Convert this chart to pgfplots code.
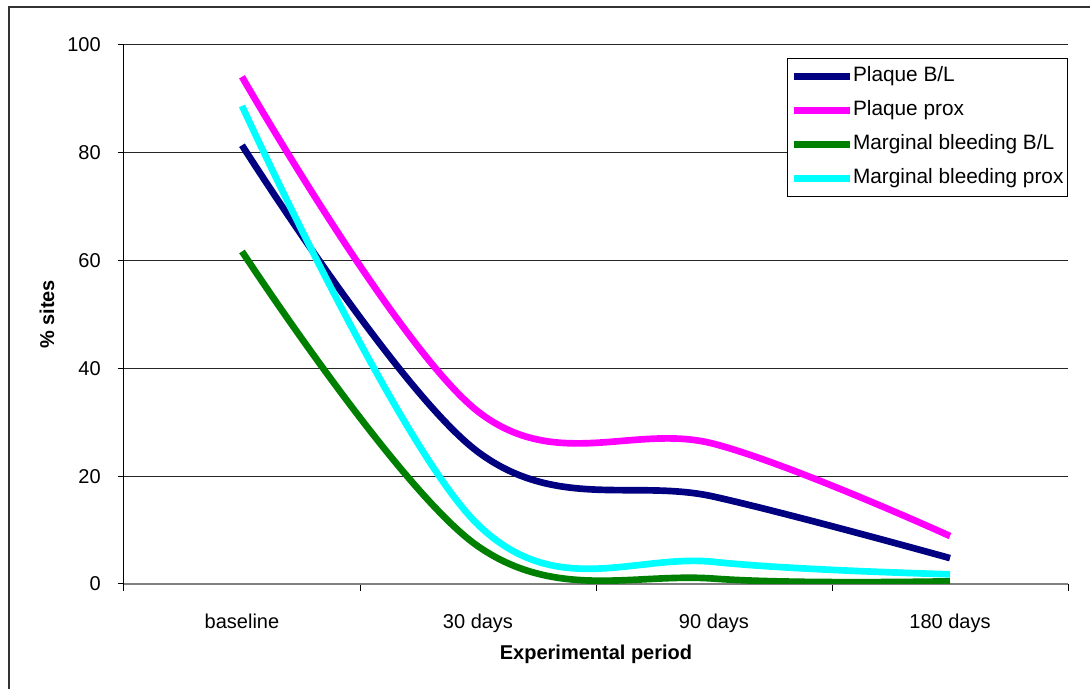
\documentclass[border=0pt]{standalone}
\usepackage{pgfplots}
\pgfplotsset{compat=1.18}
\usepackage{fontspec}
\setmainfont{Liberation Sans}
\definecolor{cnavy}{RGB}{0,0,128}
\definecolor{cmag}{RGB}{255,0,255}
\definecolor{cgreen}{RGB}{0,128,0}
\definecolor{ccyan}{RGB}{0,255,255}
\begin{document}
\begin{tikzpicture}
\path[use as bounding box] (0,0) rectangle (817.5pt,516.75pt);
\draw[line width=1pt, black!80] (6.75pt,-2pt) -- (6.75pt,511.5pt) -- (820pt,511.5pt);
\begin{axis}[
  at={(93pt,78.75pt)}, anchor=south west,
  scale only axis, width=708pt, height=404.25pt,
  xmin=-0.5, xmax=3.5, ymin=0, ymax=100,
  ytick={0,20,40,60,80,100},
  xtick={0,1,2,3}, xticklabels={baseline,30 days,90 days,180 days},
  minor xtick={-0.5,0.5,1.5,2.5,3.5},
  major x tick style={draw=none},
  axis x line*=bottom, axis y line*=left,
  tick align=outside,
  major tick length=4.5pt, minor tick length=5.25pt,
  tick style={black, line width=0.75pt},
  ymajorgrids, grid style={black!85, line width=0.75pt},
  x axis line style={black!50, line width=1.2pt},
  y axis line style={black, line width=0.75pt},
  /pgf/number format/assume math mode=true,
  ticklabel style={font=\fontsize{15}{18}\selectfont},
  xticklabel style={anchor=base, yshift=-29.25pt, inner sep=0pt},
  yticklabel style={anchor=east, xshift=-12.75pt, inner sep=0pt},
  ylabel={\% sites}, xlabel={Experimental period},
  every axis y label/.style={at={(rel axis cs:0,0.5)}, xshift=-57.75pt, rotate=90, anchor=center, font=\fontsize{15}{18}\selectfont\bfseries},
  every axis x label/.style={at={(rel axis cs:0.5,0)}, anchor=base, yshift=-57pt, font=\fontsize{15}{18}\selectfont\bfseries},
  legend cell align=left,
  legend style={at={(rel axis cs:1,0.9759)}, anchor=north east, draw=black, line width=0.75pt, fill=white,
    font=\fontsize{15.6}{18}\selectfont, inner xsep=3pt, inner ysep=6pt, row sep=10.9pt,
    nodes={inner sep=0pt, text height=11.2pt, text depth=3.5pt}},
  legend image code/.code={\draw[#1, line width=5pt] (0pt,0pt) -- (41.5pt,0pt);},
]
\addplot[color=cnavy, line width=5pt, smooth, tension=0.6] coordinates {(0,81.4) (1,24.5) (2,16.2) (3,4.8)};
\addlegendentry{Plaque B/L}
\addplot[color=cmag, line width=5pt, smooth, tension=0.6] coordinates {(0,94.1) (1,32) (2,26) (3,8.9)};
\addlegendentry{Plaque prox}
\addplot[color=cgreen, line width=5pt, smooth, tension=0.6] coordinates {(0,61.7) (1,7) (2,1.0) (3,0.5)};
\addlegendentry{Marginal bleeding B/L}
\addplot[color=ccyan, line width=5pt, smooth, tension=0.6] coordinates {(0,88.7) (1,11) (2,4.1) (3,1.8)};
\addlegendentry{Marginal bleeding prox}
\end{axis}
\end{tikzpicture}
\end{document}
